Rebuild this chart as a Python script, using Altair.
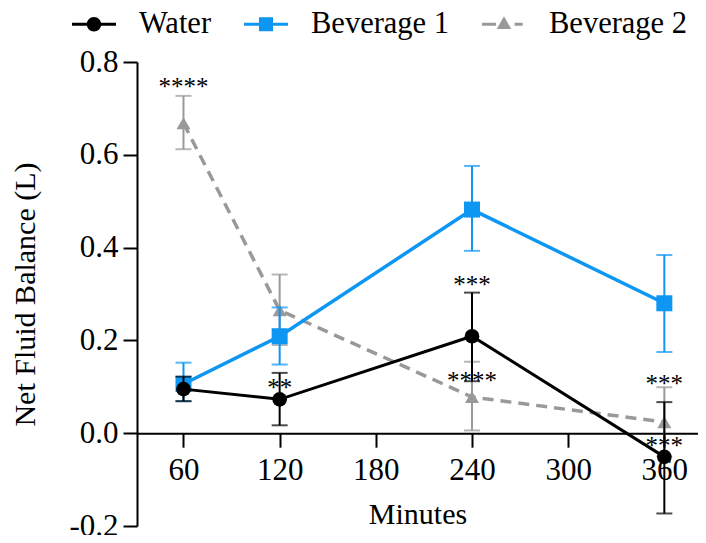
import altair as alt
import pandas as pd

# ---- data ----
minutes = [60, 120, 240, 360]
series_names = ["Water", "Beverage 1", "Beverage 2"]

water_mean = [0.095, 0.073, 0.209, -0.051]
water_upper = [0.122, 0.130, 0.303, 0.067]
water_lower = [0.069, 0.017, 0.112, -0.173]

bev1_mean = [0.106, 0.209, 0.482, 0.280]
bev1_upper = [0.152, 0.271, 0.576, 0.384]
bev1_lower = [0.069, 0.148, 0.393, 0.175]

bev2_mean = [0.668, 0.265, 0.078, 0.024]
bev2_upper = [0.727, 0.342, 0.154, 0.099]
bev2_lower = [0.612, 0.190, 0.006, -0.050]

annot_x = [60, 120, 240, 240, 360, 360]
annot_y = [0.753, 0.106, 0.326, 0.121, 0.114, -0.019]
annot_text = ["****", "**", "***", "****", "***", "***"]

x_ticks = [60, 120, 180, 240, 300, 360]
y_ticks = [-0.2, 0.0, 0.2, 0.4, 0.6, 0.8]

colors = {"Water": "#000000", "Beverage 1": "#0D96F2", "Beverage 2": "#999999"}
shapes = {"Water": "circle", "Beverage 1": "square", "Beverage 2": "triangle-up"}

FONT = "Liberation Serif"

def make_df(name, mean, lo, hi):
    return pd.DataFrame({"minutes": minutes, "mean": mean, "lower": lo, "upper": hi, "series": name})

dfs = {
    "Water": make_df("Water", water_mean, water_lower, water_upper),
    "Beverage 1": make_df("Beverage 1", bev1_mean, bev1_lower, bev1_upper),
    "Beverage 2": make_df("Beverage 2", bev2_mean, bev2_lower, bev2_upper),
}

xscale = alt.Scale(domain=[31, 381], nice=False, zero=False)
yscale = alt.Scale(domain=[-0.2, 0.8], nice=False, zero=False)

x_axis = alt.Axis(values=x_ticks, title="Minutes", offset=-92.8, labelPadding=8, titlePadding=14,
                  labelFont=FONT, titleFont=FONT, labelFontSize=31, titleFontSize=30)
y_axis = alt.Axis(values=y_ticks, title="Net Fluid Balance (L)", labelPadding=5, titlePadding=28,
                  labelFont=FONT, titleFont=FONT, labelFontSize=31, titleFontSize=30,
                  labelExpr="replace(format(datum.value, '.1f'), '\u2212', '-')")

X = alt.X("minutes:Q", scale=xscale, axis=x_axis)
Y = alt.Y("mean:Q", scale=yscale, axis=y_axis)

line_w = {"Water": 3, "Beverage 1": 3.5, "Beverage 2": 3.5}
sizes = {"Water": 216, "Beverage 1": 256, "Beverage 2": 196}

layers = []
for name in ["Beverage 2", "Beverage 1", "Water"]:
    d = dfs[name]
    c = colors[name]
    base = alt.Chart(d)
    line_kwargs = dict(color=c, strokeWidth=line_w[name])
    if name == "Beverage 2":
        line_kwargs["strokeDash"] = [11, 7]
    layers.append(base.mark_line(**line_kwargs).encode(x=X, y=Y))
    layers.append(base.mark_rule(color=c, strokeWidth=2).encode(
        x=alt.X("minutes:Q", scale=xscale), y=alt.Y("lower:Q", scale=yscale), y2="upper:Q"))
    layers.append(base.mark_tick(color=c, orient="horizontal", size=16, thickness=2).encode(
        x=alt.X("minutes:Q", scale=xscale), y=alt.Y("upper:Q", scale=yscale)))
    layers.append(base.mark_tick(color=c, orient="horizontal", size=16, thickness=2).encode(
        x=alt.X("minutes:Q", scale=xscale), y=alt.Y("lower:Q", scale=yscale)))
    layers.append(base.mark_point(filled=True, opacity=1, color=c, shape=shapes[name],
                                  size=sizes[name], strokeWidth=0).encode(x=X, y=Y))

annot_df = pd.DataFrame({"minutes": annot_x, "y": annot_y, "text": annot_text})
layers.append(alt.Chart(annot_df).mark_text(font=FONT, fontSize=25, color="black", dy=11.5,
                                             baseline="alphabetic", align="center").encode(
    x=alt.X("minutes:Q", scale=xscale), y=alt.Y("y:Q", scale=yscale), text="text:N"))

# legend-only layer (no visible marks)
leg_paths = [
    "M-1,-0.07H-0.3V0.07H-1Z M0.3,-0.07H1V0.07H0.3Z M-0.33,0A0.33,0.33 0 1,1 0.33,0A0.33,0.33 0 1,1 -0.33,0Z",
    "M-1,-0.07H-0.3V0.07H-1Z M0.3,-0.07H1V0.07H0.3Z M-0.32,-0.32H0.32V0.32H-0.32Z",
    "M-1,-0.07H-0.36V0.07H-1Z M0.48,-0.07H0.85V0.07H0.48Z M0,-0.36L0.33,0.22H-0.33Z",
]
leg_df = pd.DataFrame({"minutes": minutes[:3], "mean": water_mean[:3], "series": series_names})
legend = alt.Legend(title=None, orient="none", direction="horizontal", legendX=-65, legendY=-60,
                    symbolSize=1936, symbolStrokeWidth=0, labelFont=FONT, labelFontSize=30.5,
                    labelColor="black", labelOffset=23, columnPadding=32, symbolOpacity=1)
layers.append(alt.Chart(leg_df).transform_filter("false").mark_point(filled=True, size=1936).encode(
    x=alt.X("minutes:Q", scale=xscale), y=alt.Y("mean:Q", scale=yscale),
    color=alt.Color("series:N", scale=alt.Scale(domain=series_names,
                                                range=[colors[s] for s in series_names]), legend=legend),
    shape=alt.Shape("series:N", scale=alt.Scale(domain=series_names, range=leg_paths), legend=legend),
))

chart = alt.layer(*layers).properties(
    width=561, height=464,
    autosize=alt.AutoSizeParams(type="none"),
    padding={"left": 129, "top": 54, "right": 0, "bottom": 9},
).configure_view(stroke=None).configure_axis(
    labelFont=FONT, titleFont=FONT, labelFontSize=31, titleFontSize=30, titleFontWeight="normal",
    labelColor="black", titleColor="black", domainColor="black", domainWidth=2,
    tickColor="black", tickWidth=2, tickSize=14, grid=False,
)

chart.save("out.html", embed_options={"renderer": "svg", "actions": False})
